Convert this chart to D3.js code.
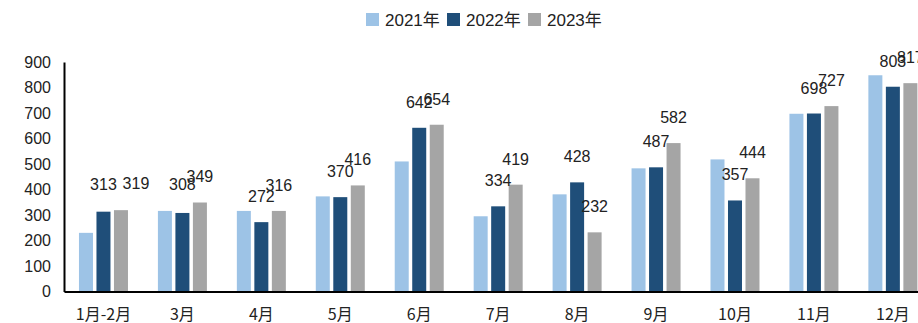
<!DOCTYPE html>
<html>
<head>
<meta charset="utf-8">
<script src="https://cdn.jsdelivr.net/npm/d3@7/dist/d3.min.js"></script>
<style>
  html, body { margin: 0; padding: 0; background: #fff; }
  svg { display: block; }
</style>
</head>
<body>
<svg id="chart" width="918" height="323"></svg>
<script>
// Monthly values by year
const categories = ["1月-2月", "3月", "4月", "5月", "6月", "7月", "8月", "9月", "10月", "11月", "12月"];
const series = ["2021年", "2022年", "2023年"];
const values2021 = [230, 316, 316, 373, 510, 295, 381, 483, 518, 697, 848];
const values2022 = [313, 308, 272, 370, 642, 334, 428, 487, 357, 698, 803];
const values2023 = [319, 349, 316, 416, 654, 419, 232, 582, 444, 727, 817];
const yTicks = [0, 100, 200, 300, 400, 500, 600, 700, 800, 900];
const colors = ["#9DC3E6", "#1F4E79", "#A5A5A5"];

const allValues = [values2021, values2022, values2023];
const rows = categories.map((c, i) => ({
  category: c,
  values: series.map((s, k) => ({ series: s, k, value: allValues[k][i] }))
}));

// Hand-placed label adjustments (category -> series index -> [dx, dy])
const labelNudge = {
  "1月-2月": { 1: [0, -2], 2: [15, -1] },
  "3月": { 1: [0, -3], 2: [0, -1] }
};

const svg = d3.select("#chart");
const latin = "'Liberation Sans', Arial, sans-serif";
const cjk = "'Liberation Sans', 'Noto Sans CJK SC', sans-serif";

// Plot area (the last category runs past the right edge and is clipped)
const left = 64, bandStep = 78.94;
const x0 = d3.scaleBand().domain(categories)
  .range([left, left + categories.length * bandStep])
  .paddingInner(0).paddingOuter(0);
const x1 = d3.scaleBand().domain(series).range([0, 49]).paddingInner(0.2);
const y = d3.scaleLinear().domain([0, 900]).range([291.5, 62]);
const groupX = c => x0(c) + x0.bandwidth() / 2 - 24.5;

// Bars
const groups = svg.append("g").selectAll("g")
  .data(rows).join("g")
  .attr("transform", d => `translate(${groupX(d.category)},0)`);

groups.selectAll("rect")
  .data(d => d.values).join("rect")
  .attr("x", d => x1(d.series))
  .attr("width", x1.bandwidth())
  .attr("y", d => y(d.value))
  .attr("height", d => y(0) - y(d.value))
  .attr("fill", d => colors[d.k]);

// Value labels for 2022 and 2023 (2023 drawn first, 2022 on top)
const nudge = (c, k) => (labelNudge[c] && labelNudge[c][k]) || [0, 0];
[2, 1].forEach(k => {
  svg.append("g").selectAll("text")
    .data(rows).join("text")
    .attr("x", d => groupX(d.category) + x1(series[k]) + x1.bandwidth() / 2 + nudge(d.category, k)[0])
    .attr("y", d => y(d.values[k].value) - 20 + nudge(d.category, k)[1])
    .attr("text-anchor", "middle")
    .attr("font-family", latin)
    .attr("font-size", 16)
    .attr("fill", "#222")
    .text(d => d.values[k].value);
});

// Y axis
const yAxis = svg.append("g")
  .attr("transform", `translate(${left},0)`)
  .call(d3.axisLeft(y).tickValues(yTicks).tickSize(0).tickSizeOuter(0).tickPadding(13));
yAxis.select(".domain").attr("stroke", "#000").attr("stroke-width", 2);
yAxis.selectAll("text")
  .attr("font-family", latin)
  .attr("font-size", 16)
  .attr("fill", "#222");

// X axis
const xAxis = svg.append("g")
  .attr("transform", `translate(0,${y(0)})`)
  .call(d3.axisBottom(x0).tickSize(0).tickSizeOuter(0).tickPadding(17));
xAxis.select(".domain").attr("stroke", "#000").attr("stroke-width", 2);
xAxis.selectAll("text")
  .attr("font-family", "'Noto Sans CJK SC', sans-serif")
  .attr("font-size", 16)
  .attr("fill", "#222");

// Legend
const legendX = [366, 447, 528];
const legend = svg.append("g").selectAll("g")
  .data(series).join("g")
  .attr("transform", (d, i) => `translate(${legendX[i]},13)`);
legend.append("rect")
  .attr("width", 13).attr("height", 13)
  .attr("fill", (d, i) => colors[i]);
legend.append("text")
  .attr("x", 19).attr("y", 12.5)
  .attr("font-family", cjk)
  .attr("font-size", 17)
  .attr("fill", "#222")
  .text(d => d);
</script>
</body>
</html>
